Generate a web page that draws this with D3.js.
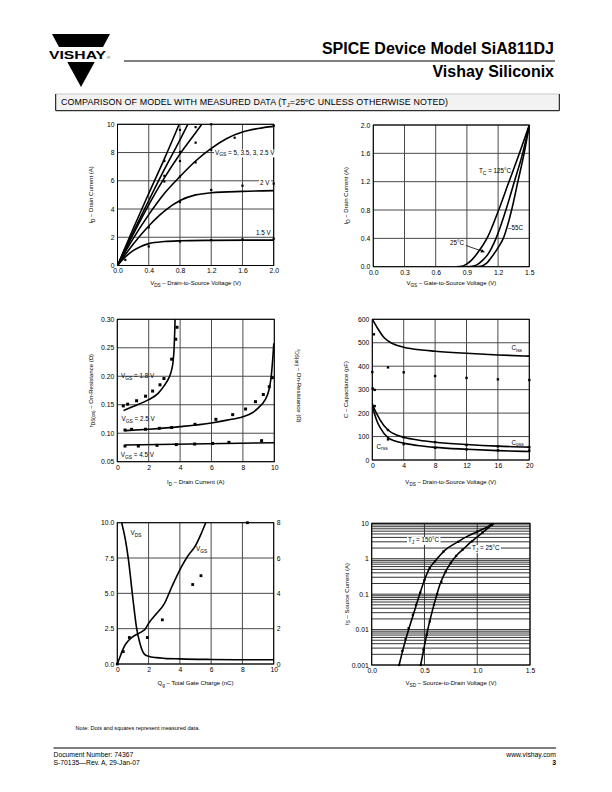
<!DOCTYPE html>
<html><head><meta charset="utf-8">
<script src="https://cdn.jsdelivr.net/npm/d3@7"></script>
<style>
body{margin:0;background:#fff}
svg{display:block}
text{font-family:"Liberation Sans",Arial,sans-serif}
</style>
</head><body>
<svg id="c" width="612" height="792"></svg>
<script>
// ---------------- DATA ----------------
// Panel 1: Output characteristics (ID vs VDS)
const p1XTicks = [0.0, 0.4, 0.8, 1.2, 1.6, 2.0];
const p1YTicks = [0, 2, 4, 6, 8, 10];
const p1Vgs5   = [[0,0],[0.2,2.6],[0.4,5.1],[0.6,7.55],[0.79,10]];
const p1Vgs35  = [[0,0],[0.2,2.35],[0.4,4.6],[0.6,6.8],[0.8,8.9],[0.9,10]];
const p1Vgs3   = [[0,0],[0.2,2.2],[0.4,4.3],[0.6,6.2],[0.8,7.9],[1.0,9.4],[1.08,10]];
const p1Vgs25  = [[0,0],[0.2,1.9],[0.4,3.6],[0.6,5.1],[0.8,6.3],[1.0,7.4],[1.2,8.3],[1.4,9.0],[1.6,9.45],[1.8,9.7],[2.0,9.85]];
const p1Vgs2   = [[0,0],[0.2,1.5],[0.4,2.8],[0.6,3.85],[0.8,4.6],[1.0,5.0],[1.2,5.15],[1.6,5.25],[2.0,5.3]];
const p1Vgs15  = [[0,0],[0.1,0.6],[0.2,1.05],[0.3,1.35],[0.4,1.55],[0.6,1.7],[0.8,1.75],[1.2,1.78],[2.0,1.8]];
const p1Meas   = [[0.1,0.4],[0.4,1.35],[0.4,2.7],[0.6,7.4],[0.6,6.35],[0.6,5.95],[0.8,9.6],[0.8,8.05],[0.8,7.4],[0.8,6.3],[0.8,4.5],[0.8,1.7],[1.0,9.8],[1.0,8.7],[1.0,7.3],[1.2,10],[1.2,8.2],[1.2,5.35],[1.2,1.8],[1.5,9.05],[1.6,5.65],[1.6,1.85],[2.0,9.9],[2.0,5.8],[2.0,1.9]];

// Panel 2: Transfer characteristics (ID vs VGS)
const p2XTicks = [0.0, 0.3, 0.6, 0.9, 1.2, 1.5];
const p2YTicks = [0.0, 0.4, 0.8, 1.2, 1.6, 2.0];
const p2T125   = [[0.8,0],[0.85,0.005],[0.9,0.04],[0.95,0.1],[1.0,0.19],[1.1,0.42],[1.2,0.78],[1.3,1.18],[1.4,1.58],[1.5,2.0]];
const p2T25    = [[0.9,0],[0.95,0.005],[1.0,0.03],[1.05,0.09],[1.1,0.17],[1.18,0.4],[1.275,0.8],[1.356,1.2],[1.436,1.6],[1.5,2.0]];
const p2Tm55   = [[0.98,0],[1.03,0.005],[1.09,0.05],[1.15,0.16],[1.2,0.27],[1.25,0.4],[1.33,0.8],[1.39,1.2],[1.45,1.6],[1.5,2.0]];

// Panel 3: On-resistance vs drain current
const p3XTicks = [0, 2, 4, 6, 8, 10];
const p3YTicks = [0.05, 0.10, 0.15, 0.20, 0.25, 0.30];
const p3Vgs18  = [[0.4,0.14],[1.0,0.147],[2.0,0.159],[2.6,0.170],[3.0,0.184],[3.3,0.198],[3.45,0.210],[3.55,0.225],[3.62,0.25],[3.66,0.28],[3.68,0.30]];
const p3Vgs25  = [[0.5,0.1045],[2,0.107],[4,0.1115],[6,0.118],[7,0.123],[8,0.129],[8.6,0.136],[9.0,0.145],[9.4,0.158],[9.65,0.175],[9.8,0.199],[9.9,0.23],[9.97,0.258]];
const p3Vgs45  = [[0.5,0.0793],[10,0.0834]];
const p3Meas18 = [[0.38,0.148],[0.66,0.151],[1.23,0.157],[1.8,0.165],[2.25,0.174],[2.72,0.185],[2.97,0.196],[3.46,0.230],[3.72,0.265],[3.8,0.286]];
const p3Meas25 = [[0.49,0.1056],[0.91,0.1068],[1.8,0.107],[2.68,0.1086],[3.46,0.110],[4.95,0.1156],[6.28,0.1244],[7.35,0.1326],[8.17,0.1425],[8.8,0.1554],[9.3,0.168],[9.68,0.1817],[9.87,0.1975]];
const p3Meas45 = [[0.49,0.0775],[1.34,0.0775],[2.53,0.0787],[3.76,0.080],[4.93,0.081],[6.07,0.082],[7.11,0.084],[9.19,0.0869]];

// Panel 4: Capacitance
const p4XTicks = [0, 4, 8, 12, 16, 20];
const p4YTicks = [0, 100, 200, 300, 400, 500, 600];
const p4Ciss   = [[0,600],[0.55,569],[1.4,526],[2,508],[3,490],[4,481],[6,470],[8,464],[12,455],[16,448],[20,443]];
const p4Coss   = [[0,240],[0.3,215],[0.6,195],[1,170],[2,128],[3,108],[4,97],[6,84],[8,76],[12,66],[16,59],[20,55]];
const p4Crss   = [[0,232],[0.3,195],[0.6,165],[1,138],[2,95],[3,80],[4,72],[6,61],[8,54],[12,46],[16,40],[20,36]];
const p4MeasCiss = [[0.2,536],[0,375],[2,395],[4,374],[8,358],[12,350],[16,344],[20,341],[0.05,305],[0.3,299]];
const p4MeasCoss = [[0.3,230],[2,128],[4,97],[8,76],[12,64],[16,58],[20,55]];
const p4MeasCrss = [[2,88],[4,68],[8,52],[12,45],[16,41],[20,40]];

// Panel 5: Gate charge
const p5XTicks  = [0, 2, 4, 6, 8, 10];
const p5YTicks  = [0.0, 2.5, 5.0, 7.5, 10.0];
const p5Y2Ticks = [0, 2, 4, 6, 8];
const p5Vds     = [[0.28,10],[0.5,8.9],[0.7,7.5],[1.0,4.6],[1.24,2.5],[1.45,1.45],[1.6,0.95],[1.73,0.7],[2.0,0.55],[2.5,0.45],[3,0.4],[4,0.36],[6,0.32],[8,0.3],[10,0.3]];
const p5Vgs     = [[0,0],[0.15,0.35],[0.3,0.7],[0.45,1.0],[0.6,1.2],[0.8,1.4],[1.0,1.55],[1.3,1.7],[1.6,1.85],[1.8,2.0],[2.0,2.3],[2.5,2.85],[3.0,3.4],[3.5,4.4],[4.1,5.5],[4.5,6.1],[5.0,6.7],[5.35,7.35],[5.65,8.0]];
const p5Meas    = [[0,0],[0.38,0.7],[0.77,1.5],[1.92,1.5],[2.88,2.5],[4.82,4.5],[5.35,5.0],[8.32,8]];

// Panel 6: Source-drain diode forward voltage
const p6XTicks  = [0.0, 0.5, 1.0, 1.5];
const p6YTicks  = [0.001, 0.01, 0.1, 1, 10];
const p6YLabels = ["0.001", "0.01", "0.1", "1", "10"];
const p6T150    = [[0.26,0.001],[0.30,0.003],[0.35,0.01],[0.40,0.03],[0.45,0.09],[0.50,0.25],[0.55,0.55],[0.60,0.85],[0.70,1.8],[0.80,2.8],[0.90,4.2],[1.0,5.8],[1.1,8.0],[1.15,9.8]];
const p6T25     = [[0.464,0.001],[0.50,0.0035],[0.527,0.0087],[0.57,0.03],[0.616,0.095],[0.65,0.2],[0.685,0.35],[0.72,0.55],[0.758,0.83],[0.81,1.3],[0.868,1.86],[0.93,2.8],[0.995,4.0],[1.09,6.8],[1.16,10]];
const p6Meas150 = [[0.26,0.001],[0.29,0.0025],[0.32,0.0055],[0.35,0.011],[0.39,0.026],[0.42,0.05],[0.46,0.11],[0.50,0.25],[0.55,0.55],[0.60,0.85],[0.68,1.6],[0.82,3.0],[1.0,5.8],[1.12,8.6]];
const p6Meas25  = [[0.464,0.001],[0.49,0.0027],[0.52,0.007],[0.55,0.017],[0.59,0.05],[0.62,0.1],[0.66,0.22],[0.70,0.43],[0.75,0.77],[0.80,1.2],[0.86,1.8],[0.95,3.1],[1.05,5.5],[1.14,9.0]];

// ---------------- DRAWING ----------------
const FONT = '"Liberation Sans", Arial, sans-serif';
const svg = d3.select("#c");
let clipN = 0;

function rich(sel, str, size) {
  const parts = str.split(/(_\{[^}]*\})/).filter(p => p.length);
  let wasSub = false;
  parts.forEach(p => {
    if (p.startsWith("_{")) {
      sel.append("tspan").attr("font-size", size * 0.78).attr("dy", size * 0.3).text(p.slice(2, -1));
      wasSub = true;
    } else {
      const t = sel.append("tspan").text(p);
      if (wasSub) t.attr("dy", -size * 0.3);
      wasSub = false;
    }
  });
  return sel;
}

function label(x, y, str, size, opts = {}) {
  const t = svg.append("text").attr("x", x).attr("y", y)
    .attr("font-size", size).attr("fill", "#000")
    .attr("text-anchor", opts.anchor || "start");
  if (opts.rotate) t.attr("transform", `rotate(${opts.rotate},${x},${y})`);
  rich(t, str, size);
  if (opts.bg) {
    const b = t.node().getBBox();
    svg.insert("rect", () => t.node()).attr("x", b.x - 1).attr("y", b.y + 1)
      .attr("width", b.width + 2).attr("height", b.height - 1).attr("fill", "#fff");
  }
  return t;
}

function panel(L, o) {
  const x = d3.scaleLinear().domain(o.xDomain).range([L.x0, L.x1]);
  const y = (o.log ? d3.scaleLog() : d3.scaleLinear()).domain(o.yDomain).range([L.y1, L.y0]);
  const g = svg.append("g");
  const id = "clip" + (++clipN);
  svg.append("clipPath").attr("id", id).append("rect")
    .attr("x", L.x0).attr("y", L.y0).attr("width", L.x1 - L.x0).attr("height", L.y1 - L.y0);
  const gc = o.log ? "#333" : "#4a4a4a";
  g.selectAll(null).data(o.xGrid).join("line")
    .attr("x1", d => x(d)).attr("x2", d => x(d)).attr("y1", L.y0).attr("y2", L.y1)
    .attr("stroke", gc).attr("stroke-width", 1);
  g.selectAll(null).data(o.yGrid).join("line")
    .attr("y1", d => y(d)).attr("y2", d => y(d)).attr("x1", L.x0).attr("x2", L.x1)
    .attr("stroke", gc).attr("stroke-width", 1);
  g.append("rect").attr("x", L.x0).attr("y", L.y0).attr("width", L.x1 - L.x0).attr("height", L.y1 - L.y0)
    .attr("fill", "none").attr("stroke", "#000").attr("stroke-width", 1);
  const ax = g.append("g").attr("transform", `translate(0,${L.y1})`)
    .call(d3.axisBottom(x).tickValues(o.xTicks).tickFormat(o.xFmt).tickSize(0).tickPadding(3));
  const ay = g.append("g").attr("transform", `translate(${L.x0},0)`)
    .call(d3.axisLeft(y).tickValues(o.yTicks).tickFormat(o.yFmt).tickSize(0).tickPadding(3));
  [ax, ay].forEach(a => { a.select(".domain").remove(); a.attr("font-size", 6.8).attr("font-family", FONT); a.selectAll("text").attr("fill", "#000"); });
  const line = (data, yy = y, w = 1.6) => g.append("path").datum(data)
    .attr("clip-path", `url(#${id})`)
    .attr("d", d3.line().x(d => x(d[0])).y(d => yy(d[1])).curve(d3.curveMonotoneX))
    .attr("fill", "none").attr("stroke", "#000").attr("stroke-width", w);
  const dots = (data, s = 2.4, yy = y) => g.selectAll(null).data(data).join("rect")
    .attr("x", d => x(d[0]) - s / 2).attr("y", d => yy(d[1]) - s / 2)
    .attr("width", s).attr("height", s).attr("fill", "#000");
  return { x, y, g, id, line, dots };
}

// ---- Header ----
const logoTop = [[52,34],[110,34],[103,47],[59,47]];
const logoBot = [[67.3,62],[94.7,62],[81,87]];
svg.append("polygon").attr("points", logoTop.map(p => p.join(",")).join(" ")).attr("fill", "#000");
svg.append("polygon").attr("points", logoBot.map(p => p.join(",")).join(" ")).attr("fill", "#000");
svg.append("text").attr("x", 49).attr("y", 58.5).attr("font-size", 11).attr("font-weight", "bold")
  .attr("textLength", 57).attr("lengthAdjust", "spacingAndGlyphs").text("VISHAY");
svg.append("text").attr("x", 107).attr("y", 58.5).attr("font-size", 4).text("®");
svg.append("line").attr("x1", 124).attr("x2", 555).attr("y1", 61).attr("y2", 61).attr("stroke", "#000").attr("stroke-width", 1);
svg.append("text").attr("x", 554).attr("y", 53.8).attr("font-size", 16).attr("font-weight", "bold")
  .attr("text-anchor", "end").text("SPICE Device Model SiA811DJ");
svg.append("text").attr("x", 554).attr("y", 77).attr("font-size", 16).attr("font-weight", "bold")
  .attr("text-anchor", "end").text("Vishay Siliconix");
// box
svg.append("rect").attr("x", 55.7).attr("y", 94).attr("width", 503.6).attr("height", 17).attr("fill", "#f2f2f2");
svg.append("line").attr("x1", 55.7).attr("x2", 559.3).attr("y1", 94).attr("y2", 94).attr("stroke", "#c8c8c8");
svg.append("path").attr("d", "M55.7,94V110.7H559.3V94").attr("fill", "none").attr("stroke", "#000").attr("stroke-width", 1);
{
  const t = svg.append("text").attr("x", 61).attr("y", 104.5).attr("font-size", 8.9).attr("fill", "#000")
    .attr("textLength", 387).attr("lengthAdjust", "spacing");
  t.append("tspan").text("COMPARISON OF MODEL WITH MEASURED DATA (T");
  t.append("tspan").attr("font-size", 5.8).attr("dy", 2).text("J");
  t.append("tspan").attr("dy", -2).text("=25");
  t.append("tspan").attr("font-size", 5.8).attr("dy", -2.5).text("o");
  t.append("tspan").attr("dy", 2.5).text("C UNLESS OTHERWISE NOTED)");
}

// ---- Panel 1 ----
{
  const P = panel({ x0: 117.5, x1: 273.7, y0: 124.3, y1: 265.5 },
    { xDomain: [0, 2], yDomain: [0, 10], xTicks: p1XTicks, yTicks: p1YTicks,
      xGrid: p1XTicks, yGrid: p1YTicks, xFmt: d3.format(".1f"), yFmt: d3.format("d") });
  [p1Vgs5, p1Vgs35, p1Vgs3, p1Vgs25, p1Vgs2, p1Vgs15].forEach(d => P.line(d));
  P.dots(p1Meas, 2.2);
  label(215, 154.5, "V_{GS} = 5, 3.5, 3, 2.5 V", 6.3, { bg: true });
  label(260, 184.5, "2 V", 6.3, { bg: true });
  label(256, 235, "1.5 V", 6.3, { bg: true });
  label(195.6, 285, "V_{DS} – Drain-to-Source Voltage (V)", 6, { anchor: "middle" });
  label(93, 194.9, "I_{D} – Drain Current (A)", 6, { anchor: "middle", rotate: -90 });
}

// ---- Panel 2 ----
{
  const P = panel({ x0: 373.3, x1: 529.3, y0: 125, y1: 266.7 },
    { xDomain: [0, 1.5], yDomain: [0, 2], xTicks: p2XTicks, yTicks: p2YTicks,
      xGrid: p2XTicks, yGrid: p2YTicks, xFmt: d3.format(".1f"), yFmt: d3.format(".1f") });
  [p2T125, p2T25, p2Tm55].forEach(d => P.line(d));
  label(479, 173, "T_{C} = 125°C", 6.3);
  label(508, 230, "–55C", 6.3);
  label(450, 245, "25°C", 6.3);
  svg.append("line").attr("x1", 466).attr("y1", 245.5).attr("x2", 483).attr("y2", 251.5)
    .attr("stroke", "#000").attr("stroke-width", 0.8);
  svg.append("path").attr("d", "M485,252.3L480.5,252.4L481.8,249Z").attr("fill", "#000");
  label(451.3, 285, "V_{GS} – Gate-to-Source Voltage (V)", 6, { anchor: "middle" });
  label(348, 195.8, "I_{D} – Drain Current (A)", 6, { anchor: "middle", rotate: -90 });
}

// ---- Panel 3 ----
{
  const P = panel({ x0: 117.3, x1: 274.3, y0: 319.3, y1: 461.7 },
    { xDomain: [0, 10], yDomain: [0.05, 0.30], xTicks: p3XTicks, yTicks: p3YTicks,
      xGrid: p3XTicks, yGrid: p3YTicks, xFmt: d3.format("d"), yFmt: d3.format(".2f") });
  [p3Vgs18, p3Vgs25, p3Vgs45].forEach(d => P.line(d));
  P.dots(p3Meas18, 3); P.dots(p3Meas25, 3); P.dots(p3Meas45, 3);
  label(121, 378, "V_{GS} = 1.8 V", 6.3);
  label(121.5, 421, "V_{GS} = 2.5 V", 6.3);
  label(120.7, 457, "V_{GS} = 4.5 V", 6.3);
  label(195.8, 484, "I_{D} – Drain Current (A)", 6, { anchor: "middle" });
  label(93, 390.5, "r_{DS(on)} – On-Resistance (Ω)", 6, { anchor: "middle", rotate: -90 });
  label(297, 386, "r_{DS(on)} – On-Resistance (Ω)", 6, { anchor: "middle", rotate: 90 });
}

// ---- Panel 4 ----
{
  const P = panel({ x0: 372.3, x1: 529.3, y0: 319.3, y1: 460 },
    { xDomain: [0, 20], yDomain: [0, 600], xTicks: p4XTicks, yTicks: p4YTicks,
      xGrid: p4XTicks, yGrid: p4YTicks, xFmt: d3.format("d"), yFmt: d3.format("d") });
  [p4Ciss, p4Coss, p4Crss].forEach(d => P.line(d));
  P.dots(p4MeasCiss, 2.4); P.dots(p4MeasCoss, 2.4); P.dots(p4MeasCrss, 2.4);
  label(511.5, 350, "C_{iss}", 6.3);
  label(511.5, 444.5, "C_{oss}", 6.3);
  label(376.5, 448.5, "C_{rss}", 6.3);
  label(450.8, 484, "V_{DS} – Drain-to-Source Voltage (V)", 6, { anchor: "middle" });
  label(348.5, 389.6, "C – Capacitance (pF)", 6, { anchor: "middle", rotate: -90 });
}

// ---- Panel 5 ----
{
  const L = { x0: 117.3, x1: 273.7, y0: 522.7, y1: 664 };
  const P = panel(L,
    { xDomain: [0, 10], yDomain: [0, 10], xTicks: p5XTicks, yTicks: p5YTicks,
      xGrid: p5XTicks, yGrid: p5YTicks, xFmt: d3.format("d"), yFmt: d3.format(".1f") });
  const y2 = d3.scaleLinear().domain([0, 8]).range([L.y1, L.y0]);
  const ar = P.g.append("g").attr("transform", `translate(${L.x1},0)`)
    .call(d3.axisRight(y2).tickValues(p5Y2Ticks).tickFormat(d3.format("d")).tickSize(0).tickPadding(3));
  ar.select(".domain").remove(); ar.attr("font-size", 6.8).attr("font-family", FONT); ar.selectAll("text").attr("fill", "#000");
  P.line(p5Vds);
  P.line(p5Vgs, y2);
  P.dots(p5Meas, 2.8, y2);
  label(130.5, 535, "V_{DS}", 6.3);
  label(196, 551, "V_{GS}", 6.3);
  label(195.5, 685, "Q_{g} – Total Gate Charge (nC)", 6, { anchor: "middle" });
}

// ---- Panel 6 ----
{
  const P = panel({ x0: 371.7, x1: 530, y0: 523.3, y1: 665 },
    { log: true, xDomain: [0, 1.5], yDomain: [0.001, 10], xTicks: p6XTicks, yTicks: p6YTicks,
      xGrid: p6XTicks, yGrid: d3.scaleLog().domain([0.001, 10]).ticks(), xFmt: d3.format(".1f"),
      yFmt: (d, i) => p6YLabels[i] });
  P.line(p6T150); P.line(p6T25);
  P.dots(p6Meas150, 2.2); P.dots(p6Meas25, 2.2);
  label(408, 542, "T_{J} = 150°C", 6.3, { bg: true });
  label(472, 550, "T_{J} = 25°C", 6.3, { bg: true });
  label(451, 685, "V_{SD} – Source-to-Drain Voltage (V)", 6, { anchor: "middle" });
  label(348.5, 594, "I_{S} – Source Current (A)", 6, { anchor: "middle", rotate: -90 });
}

// ---- Footer ----
svg.append("text").attr("x", 75.5).attr("y", 730).attr("font-size", 5.6).text("Note:  Dots and squares represent measured data.");
svg.append("line").attr("x1", 53.5).attr("x2", 556).attr("y1", 748).attr("y2", 748).attr("stroke", "#000").attr("stroke-width", 1);
svg.append("text").attr("x", 53.5).attr("y", 756.5).attr("font-size", 6.8).text("Document Number: 74367");
svg.append("text").attr("x", 53.5).attr("y", 764.5).attr("font-size", 6.8).text("S-70135—Rev. A, 29-Jan-07");
svg.append("text").attr("x", 556).attr("y", 756.5).attr("font-size", 6.8).attr("text-anchor", "end").text("www.vishay.com");
svg.append("text").attr("x", 556).attr("y", 764.5).attr("font-size", 6.8).attr("font-weight", "bold").attr("text-anchor", "end").text("3");
</script>
</body></html>
